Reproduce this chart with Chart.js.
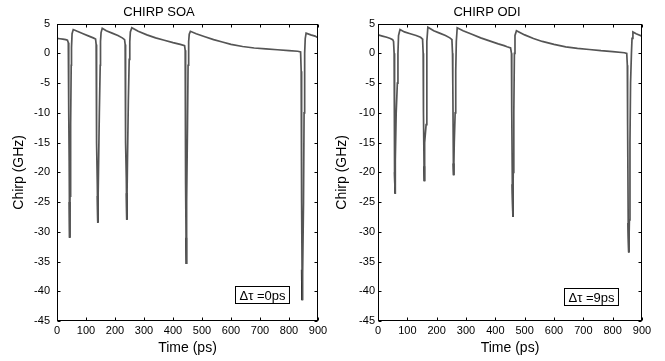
<!DOCTYPE html>
<html><head><meta charset="utf-8">
<script src="https://cdn.jsdelivr.net/npm/chart.js@4.4.1/dist/chart.umd.min.js"></script>
<style>
html,body{margin:0;padding:0;background:#fff;}
#wrap{position:relative;width:665px;height:361px;overflow:hidden;background:#fff;}
canvas{position:absolute;top:0;}
</style></head><body>
<div id="wrap">
<canvas id="c1" width="332" height="361" style="left:0px"></canvas>
<canvas id="c2" width="333" height="361" style="left:332px"></canvas>
</div>
<script>
// ---- data ----
const xTickValues = [0,100,200,300,400,500,600,700,800,900];
const yTickValues = [-45,-40,-35,-30,-25,-20,-15,-10,-5,0,5];

// CHIRP SOA (Δτ = 0 ps)
const soaTime = [0,10,20,30,36,39,40,41,42,43,44,45,47,49,50,52,56,
  70,90,110,125,133,135,136,137,139,140,141,143,146,149,150,152,156,
  170,190,210,225,233,235,236,237,239,240,241,243,246,249,251,253,258,
  280,310,340,370,400,425,440,442,443,444,445,446,448,450,452,454,456,460,
  480,510,540,570,600,640,680,720,760,800,830,840,842,843,844,845,846,848,850,852,854,856,859,875,890,900];
const soaChirp = [2.5,2.45,2.4,2.3,2.2,1.8,0,-10,-18,-25,-31,-24,-12,-2,1,3.3,4.0,
  3.7,3.3,2.9,2.6,2.4,1.5,-5,-15,-22,-24,-28.5,-20,-10,-2,2,3.5,4.2,
  3.8,3.4,3.0,2.6,2.3,1.5,-5,-15,-21,-23.5,-28,-18,-8,-1,2,3.6,4.3,
  3.7,3.1,2.6,2.2,1.8,1.5,1.3,0.5,-10,-22,-31,-35.4,-25,-12,-2,2,3.2,3.7,
  3.3,2.8,2.3,1.9,1.5,1.15,0.9,0.75,0.6,0.45,0.35,0.25,-3,-12,-25,-36.4,-41.5,-37,-25,-10,0,2.5,3.4,3.1,2.9,2.6];
// dark lower tips of the SOA dips (null = gap)
const soaTipTime  = [43,44,null,140,141,null,240,241,null,445,446,null,844,845];
const soaTipChirp = [-25,-31,null,-24,-28.5,null,-23.5,-28,null,-31,-35.4,null,-36.4,-41.5];

// CHIRP ODI (Δτ = 9 ps)
const odiTime = [0,15,30,42,50,53,55,56,57,58,59,62,66,68,70,75,
  90,110,130,145,150,152,154,155,157,158,160,164,166,167,170,
  190,210,230,245,250,252,254,255,257,258,260,263,265,267,270,
  290,320,350,380,410,430,440,452,455,456,458,460,461,463,465,467,472,
  500,530,560,600,640,680,720,760,800,840,848,850,851,853,855,857,859,861,864,866,869,880,900];
const odiChirp = [3.1,2.9,2.7,2.5,2.3,2.0,0,-8,-20,-23.5,-18,-10,-5,0,3,4.0,
  3.6,3.3,3.0,2.7,2.5,2.3,0,-10,-19,-21.5,-15,-12,-4,2,4.4,
  3.8,3.4,3.0,2.6,2.4,2.3,0,-5,-18.5,-20.5,-15,-10,-3,2,4.3,
  3.8,3.2,2.6,2.1,1.6,1.3,1.1,0.9,0,-10,-22,-27.5,-20,-10,0,3,3.8,
  3.1,2.5,2.0,1.5,1.1,0.85,0.65,0.45,0.3,0.1,0,-2,-12,-28.5,-33.5,-28,-15,-5,0,2.5,3.6,3.3,2.9];
const odiTipTime  = [57,58,null,157,158,null,257,258,null,458,460,null,853,855];
const odiTipChirp = [-20,-23.5,null,-19,-21.5,null,-18.5,-20.5,null,-22,-27.5,null,-28.5,-33.5];

const FONT = "'Liberation Sans', Arial, Helvetica, sans-serif";

const framePlugin = {
  id: 'frame',
  afterDraw(chart, args, opts) {
    const {ctx, chartArea: a, scales: {x, y}} = chart;
    ctx.save();
    ctx.strokeStyle = '#000';
    ctx.lineWidth = 1;
    const L = Math.round(a.left) + 0.5, R = Math.round(a.right) - 0.5;
    const T = Math.round(a.top) + 0.5, B = Math.round(a.bottom) - 0.5;
    ctx.strokeRect(L, T, R - L, B - T);
    const tl = 3;
    ctx.beginPath();
    xTickValues.forEach(v => {
      const px = Math.round(x.getPixelForValue(v)) + 0.5;
      ctx.moveTo(px, B); ctx.lineTo(px, B - tl);
      ctx.moveTo(px, T); ctx.lineTo(px, T + tl);
    });
    yTickValues.forEach(v => {
      const py = Math.round(y.getPixelForValue(v)) + 0.5;
      ctx.moveTo(L, py); ctx.lineTo(L + tl, py);
      ctx.moveTo(R, py); ctx.lineTo(R - tl, py);
    });
    ctx.stroke();
    // annotation box
    ctx.font = '13px ' + FONT;
    const w = ctx.measureText(opts.text).width + 8;
    const h = 17;
    const bx = Math.round(a.right - opts.right - w) + 0.5;
    const by = Math.round(a.bottom - opts.bottom - h) + 0.5;
    ctx.fillStyle = '#fff';
    ctx.fillRect(bx, by, w, h);
    ctx.strokeRect(bx, by, w, h);
    ctx.fillStyle = '#000';
    ctx.textAlign = 'center';
    ctx.textBaseline = 'middle';
    ctx.fillText(opts.text, bx + w / 2, by + h / 2 + 1);
    ctx.restore();
  }
};

function toPts(times, values) {
  return times.map((t, i) => (t === null ? {x: null, y: null} : {x: t, y: values[i]}));
}

function makeChart(id, times, values, tipT, tipV, title, boxText, g) {
  return new Chart(document.getElementById(id), {
    type: 'line',
    data: { datasets: [
      { data: toPts(times, values), borderColor: '#555555', borderWidth: 1.7,
        pointRadius: 0, tension: 0, fill: false },
      { data: toPts(tipT, tipV), borderColor: '#111111', borderWidth: 1.8,
        pointRadius: 0, tension: 0, fill: false, spanGaps: false }
    ] },
    options: {
      responsive: false, animation: false, devicePixelRatio: 1,
      layout: { padding: { left: 0, right: g.padRight, top: 0, bottom: 0 } },
      plugins: {
        legend: { display: false }, tooltip: { enabled: false },
        title: { display: true, text: title, color: '#000',
          font: { family: FONT, size: 13, weight: 'normal' }, padding: { top: 5, bottom: 3 } },
        frame: { text: boxText, right: g.boxRight, bottom: g.boxBottom }
      },
      scales: {
        x: {
          type: 'linear', min: 0, max: 900,
          afterFit: s => { s.height = 40; },
          afterBuildTicks: s => { s.ticks = xTickValues.map(v => ({value: v})); },
          ticks: { autoSkip: false, maxRotation: 0, padding: 3, color: '#000',
            font: { family: FONT, size: 11 } },
          grid: { display: false, drawTicks: false }, border: { display: false },
          title: { display: true, text: 'Time (ps)', color: '#000',
            font: { family: FONT, size: 14 }, padding: { top: 0, bottom: 4 } }
        },
        y: {
          type: 'linear', min: -45, max: 5,
          afterFit: s => { s.width = g.axisWidth; },
          afterBuildTicks: s => { s.ticks = yTickValues.map(v => ({value: v})); },
          ticks: { autoSkip: false, padding: g.yTickPad, color: '#000',
            font: { family: FONT, size: 11 } },
          grid: { display: false, drawTicks: false }, border: { display: false },
          title: { display: true, text: 'Chirp (GHz)', color: '#000',
            font: { family: FONT, size: 14 }, padding: { top: g.yTitlePad, bottom: 0 } }
        }
      }
    },
    plugins: [framePlugin]
  });
}

makeChart('c1', soaTime, soaChirp, soaTipTime, soaTipChirp, 'CHIRP SOA', 'Δτ =0ps',
  { axisWidth: 57, padRight: 14, yTickPad: 7, yTitlePad: 11, boxRight: 29, boxBottom: 18 });
makeChart('c2', odiTime, odiChirp, odiTipTime, odiTipChirp, 'CHIRP ODI', 'Δτ =9ps',
  { axisWidth: 46, padRight: 23, yTickPad: 3, yTitlePad: 2, boxRight: 24, boxBottom: 16 });
</script>
</body></html>
